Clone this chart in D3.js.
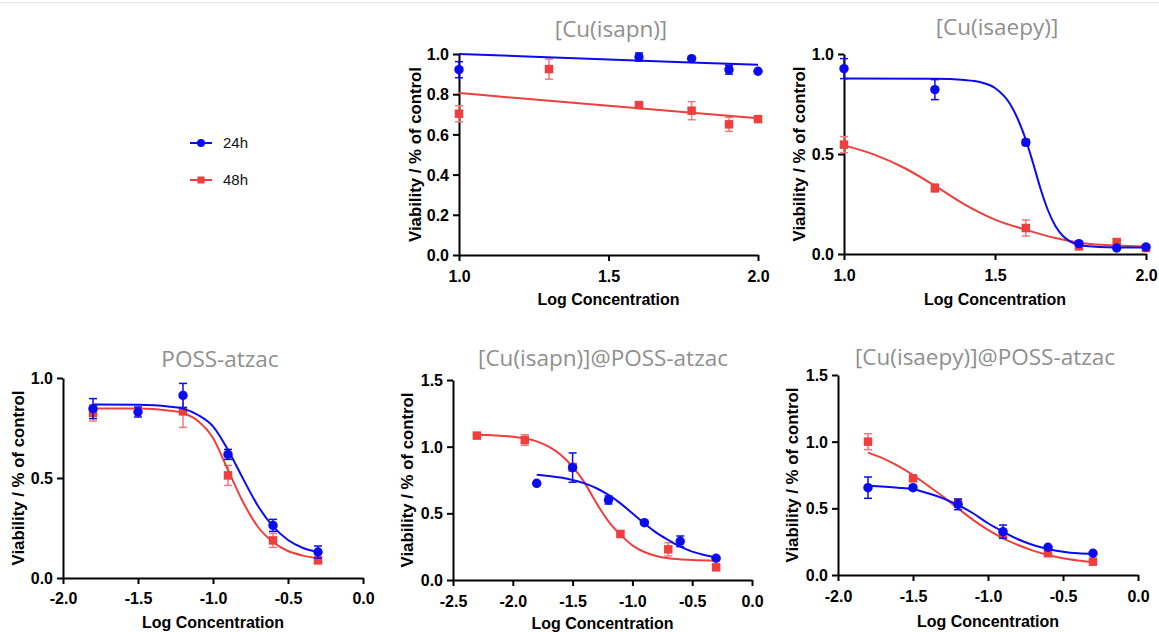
<!DOCTYPE html>
<html>
<head>
<meta charset="utf-8">
<script src="https://cdn.jsdelivr.net/npm/d3@7"></script>
<style>
  body { margin: 0; background: #fff; }
  svg { display: block; }
</style>
</head>
<body>
<div id="chart"></div>
<script>
// ---- data: [logConc, viability, sem] ----
const titles = ["[Cu(isapn)]", "[Cu(isaepy)]", "POSS-atzac", "[Cu(isapn)]@POSS-atzac", "[Cu(isaepy)]@POSS-atzac"];
const seriesNames = ["24h", "48h"];

const isapn24 = [[1.0, 0.922, 0.04], [1.602, 0.985, 0.02], [1.778, 0.977, 0], [1.903, 0.922, 0.022], [2.0, 0.914, 0]];
const isapn48 = [[1.0, 0.703, 0.04], [1.301, 0.925, 0.05], [1.602, 0.746, 0.01], [1.778, 0.718, 0.045], [1.903, 0.65, 0.035], [2.0, 0.676, 0.01]];
const isapn24Fit = [[1.0, 1.0], [1.5, 0.973], [2.0, 0.946]];
const isapn48Fit = [[1.0, 0.806], [1.5, 0.742], [2.0, 0.68]];

const isaepy24 = [[1.0, 0.927, 0.05], [1.301, 0.822, 0.05], [1.602, 0.558, 0.015], [1.778, 0.052, 0.01], [1.903, 0.03, 0], [2.0, 0.035, 0.01]];
const isaepy48 = [[1.0, 0.547, 0.04], [1.301, 0.33, 0.02], [1.602, 0.13, 0.04], [1.778, 0.038, 0.01], [1.903, 0.06, 0.01], [2.0, 0.03, 0.01]];
const isaepy24Fit = [[1.0, 0.877], [1.3, 0.876], [1.4, 0.87], [1.45, 0.86], [1.5, 0.83], [1.55, 0.75], [1.6, 0.58], [1.625, 0.46], [1.65, 0.33], [1.675, 0.22], [1.7, 0.14], [1.725, 0.09], [1.75, 0.062], [1.8, 0.04], [1.9, 0.033], [2.0, 0.032]];
const isaepy48Fit = [[1.0, 0.543], [1.1, 0.497], [1.2, 0.43], [1.3, 0.342], [1.4, 0.247], [1.5, 0.172], [1.6, 0.122], [1.7, 0.08], [1.8, 0.052], [1.9, 0.042], [2.0, 0.037]];

const poss24 = [[-1.8, 0.847, 0.05], [-1.5, 0.83, 0.025], [-1.2, 0.913, 0.06], [-0.9, 0.618, 0.025], [-0.6, 0.263, 0.03], [-0.3, 0.13, 0.03]];
const poss48 = [[-1.8, 0.825, 0.04], [-1.2, 0.833, 0.08], [-0.9, 0.513, 0.05], [-0.6, 0.188, 0.035], [-0.3, 0.088, 0.01]];
const poss24Fit = [[-1.8, 0.868], [-1.5, 0.866], [-1.3, 0.858], [-1.2, 0.847], [-1.1, 0.815], [-1.0, 0.758], [-0.9, 0.64], [-0.8, 0.497], [-0.7, 0.36], [-0.6, 0.258], [-0.5, 0.19], [-0.4, 0.15], [-0.3, 0.13]];
const poss48Fit = [[-1.8, 0.848], [-1.5, 0.847], [-1.3, 0.838], [-1.2, 0.825], [-1.1, 0.785], [-1.0, 0.70], [-0.9, 0.54], [-0.8, 0.38], [-0.7, 0.255], [-0.6, 0.18], [-0.5, 0.135], [-0.4, 0.112], [-0.3, 0.098]];

const isapnPoss24 = [[-1.8, 0.725, 0], [-1.5, 0.843, 0.11], [-1.2, 0.6, 0.03], [-0.9, 0.43, 0.01], [-0.6, 0.29, 0.04], [-0.3, 0.163, 0.01]];
const isapnPoss48 = [[-2.3, 1.083, 0.01], [-1.9, 1.05, 0.04], [-1.5, 0.845, 0.03], [-1.1, 0.345, 0.02], [-0.7, 0.23, 0.05], [-0.3, 0.095, 0.01]];
const isapnPoss24Fit = [[-1.8, 0.79], [-1.6, 0.768], [-1.5, 0.75], [-1.4, 0.725], [-1.3, 0.688], [-1.2, 0.638], [-1.1, 0.575], [-1.0, 0.5], [-0.9, 0.425], [-0.8, 0.355], [-0.7, 0.3], [-0.6, 0.25], [-0.5, 0.213], [-0.4, 0.188], [-0.3, 0.17]];
const isapnPoss48Fit = [[-2.3, 1.09], [-2.0, 1.075], [-1.8, 1.04], [-1.7, 1.0], [-1.6, 0.94], [-1.5, 0.85], [-1.4, 0.73], [-1.3, 0.575], [-1.2, 0.44], [-1.1, 0.34], [-1.0, 0.26], [-0.9, 0.21], [-0.8, 0.18], [-0.7, 0.163], [-0.5, 0.15], [-0.3, 0.145]];

const isaepyPoss24 = [[-1.8, 0.655, 0.08], [-1.5, 0.655, 0.015], [-1.2, 0.53, 0.04], [-0.9, 0.325, 0.05], [-0.6, 0.208, 0.01], [-0.3, 0.163, 0.01]];
const isaepyPoss48 = [[-1.8, 1.0, 0.06], [-1.5, 0.725, 0.02], [-1.2, 0.538, 0.03], [-0.9, 0.307, 0.03], [-0.6, 0.163, 0.01], [-0.3, 0.1, 0.01]];
const isaepyPoss24Fit = [[-1.8, 0.67], [-1.6, 0.655], [-1.5, 0.643], [-1.4, 0.613], [-1.3, 0.575], [-1.2, 0.525], [-1.1, 0.463], [-1.0, 0.388], [-0.9, 0.325], [-0.8, 0.268], [-0.7, 0.225], [-0.6, 0.195], [-0.5, 0.175], [-0.4, 0.163], [-0.3, 0.158]];
const isaepyPoss48Fit = [[-1.8, 0.918], [-1.7, 0.875], [-1.6, 0.818], [-1.5, 0.75], [-1.4, 0.67], [-1.3, 0.588], [-1.2, 0.5], [-1.1, 0.413], [-1.0, 0.338], [-0.9, 0.275], [-0.8, 0.225], [-0.7, 0.183], [-0.6, 0.15], [-0.5, 0.125], [-0.4, 0.108], [-0.3, 0.095]];

const ticksTop1Y = [0, 0.2, 0.4, 0.6, 0.8, 1.0];
const ticksHalfY = [0, 0.5, 1.0];
const ticksHalfY15 = [0, 0.5, 1.0, 1.5];
const ticksX12 = [1.0, 1.5, 2.0];
const ticksXm2 = [-2.0, -1.5, -1.0, -0.5, 0.0];
const ticksXm25 = [-2.5, -2.0, -1.5, -1.0, -0.5, 0.0];

// ---- layout ----
const W = 1159, H = 632;
const BLUE = "#0b0bf0", RED = "#ef3e3e", RED_ERR = "#f27a7a";

const panels = [
  { title: titles[0], x0: 459, x1: 758, yTop: 54, yBot: 255, xd: [1, 2], yd: [0, 1], xt: ticksX12, yt: ticksTop1Y,
    s24: isapn24, s48: isapn48, f24: isapn24Fit, f48: isapn48Fit, titleX: 611, titleY: 37, ylabX: 415, tickY: 282, xlabY: 305 },
  { title: titles[1], x0: 844, x1: 1146, yTop: 54, yBot: 254, xd: [1, 2], yd: [0, 1], xt: ticksX12, yt: ticksHalfY,
    s24: isaepy24, s48: isaepy48, f24: isaepy24Fit, f48: isaepy48Fit, titleX: 997, titleY: 35, ylabX: 799, tickY: 281, xlabY: 305 },
  { title: titles[2], x0: 63, x1: 363, yTop: 378, yBot: 578, xd: [-2, 0], yd: [0, 1], xt: ticksXm2, yt: ticksHalfY,
    s24: poss24, s48: poss48, f24: poss24Fit, f48: poss48Fit, titleX: 220, titleY: 367, ylabX: 18, tickY: 604, xlabY: 628 },
  { title: titles[3], x0: 453, x1: 752, yTop: 380, yBot: 580, xd: [-2.5, 0], yd: [0, 1.5], xt: ticksXm25, yt: ticksHalfY15,
    s24: isapnPoss24, s48: isapnPoss48, f24: isapnPoss24Fit, f48: isapnPoss48Fit, titleX: 603, titleY: 366, ylabX: 407, tickY: 607, xlabY: 629 },
  { title: titles[4], x0: 838, x1: 1138, yTop: 375, yBot: 575, xd: [-2, 0], yd: [0, 1.5], xt: ticksXm2, yt: ticksHalfY15,
    s24: isaepyPoss24, s48: isaepyPoss48, f24: isaepyPoss24Fit, f48: isaepyPoss48Fit, titleX: 985, titleY: 365, ylabX: 792, tickY: 602, xlabY: 627 }
];

const svg = d3.select("#chart").append("svg")
  .attr("width", W).attr("height", H)
  .style("font-family", "'Liberation Sans', Arial, sans-serif");

// faint frame line along the top edge
svg.append("line").attr("x1", 0).attr("x2", W).attr("y1", 2.5).attr("y2", 2.5)
  .attr("stroke", "#e6e6e6").attr("stroke-width", 1);

const fmt = d => d.toFixed(1);

panels.forEach(p => {
  const x = d3.scaleLinear().domain(p.xd).range([p.x0, p.x1]);
  const y = d3.scaleLinear().domain(p.yd).range([p.yBot, p.yTop]);
  const g = svg.append("g");

  // title
  g.append("text")
    .attr("x", p.titleX).attr("y", p.titleY)
    .attr("text-anchor", "middle")
    .attr("fill", "#8f8f8f")
    .style("font-family", "'Open Sans', sans-serif")
    .style("font-size", "22.5px")
    .text(p.title);

  // axes
  const xAxis = g.append("g")
    .attr("transform", `translate(0,${p.yBot})`)
    .call(d3.axisBottom(x).tickValues(p.xt).tickFormat(fmt).tickSize(6).tickSizeOuter(0));
  const yAxis = g.append("g")
    .attr("transform", `translate(${p.x0},0)`)
    .call(d3.axisLeft(y).tickValues(p.yt).tickFormat(fmt).tickSize(6).tickSizeOuter(0));

  [xAxis, yAxis].forEach(a => {
    a.select(".domain").attr("stroke", "#000").attr("stroke-width", 2);
    a.selectAll(".tick line").attr("stroke", "#000").attr("stroke-width", 2);
    a.selectAll(".tick text")
      .attr("fill", "#000")
      .style("font-size", "16px")
      .style("font-weight", "bold");
  });
  xAxis.selectAll(".tick text").attr("y", null).attr("dy", null)
    .attr("transform", `translate(0,${p.tickY - p.yBot})`);
  yAxis.selectAll(".tick text").attr("x", -10).attr("dy", "0.35em");

  // axis labels
  g.append("text")
    .attr("x", (p.x0 + p.x1) / 2).attr("y", p.xlabY)
    .attr("text-anchor", "middle")
    .style("font-size", "16px").style("font-weight", "bold")
    .text("Log Concentration");
  g.append("text")
    .attr("transform", `translate(${p.ylabX},${(p.yTop + p.yBot) / 2}) rotate(-90)`)
    .attr("text-anchor", "middle").attr("dy", "0.35em")
    .style("font-size", "16.8px").style("font-weight", "bold")
    .text("Viability / % of control");

  const line = d3.line().x(d => x(d[0])).y(d => y(d[1])).curve(d3.curveMonotoneX);

  // one series: error bars, fitted curve, markers
  function drawSeries(pts, fit, color, errColor, shape) {
    const eb = g.append("g").attr("stroke", errColor).attr("stroke-width", 1.5);
    pts.filter(d => d[2] > 0).forEach(d => {
      const xx = x(d[0]), ya = y(d[1] - d[2]), yb = y(d[1] + d[2]);
      eb.append("line").attr("x1", xx).attr("x2", xx).attr("y1", ya).attr("y2", yb);
      eb.append("line").attr("x1", xx - 4).attr("x2", xx + 4).attr("y1", ya).attr("y2", ya);
      eb.append("line").attr("x1", xx - 4).attr("x2", xx + 4).attr("y1", yb).attr("y2", yb);
    });

    g.append("path").datum(fit)
      .attr("fill", "none").attr("stroke", color).attr("stroke-width", 2)
      .attr("d", line);

    const sym = d3.symbol().type(shape).size(shape === d3.symbolSquare ? 72 : 70);
    g.append("g").selectAll("path").data(pts).join("path")
      .attr("transform", d => `translate(${x(d[0])},${y(d[1])})`)
      .attr("d", sym)
      .attr("fill", color);
  }

  drawSeries(p.s48, p.f48, RED, RED_ERR, d3.symbolSquare);
  drawSeries(p.s24, p.f24, BLUE, BLUE, d3.symbolCircle);
});

// legend
const legend = svg.append("g");
const legendItems = [
  { name: seriesNames[0], color: BLUE, shape: d3.symbolCircle, y: 143 },
  { name: seriesNames[1], color: RED, shape: d3.symbolSquare, y: 180 }
];
legendItems.forEach(it => {
  legend.append("line")
    .attr("x1", 190).attr("x2", 212).attr("y1", it.y).attr("y2", it.y)
    .attr("stroke", it.color).attr("stroke-width", 2);
  legend.append("path")
    .attr("transform", `translate(201,${it.y})`)
    .attr("d", d3.symbol().type(it.shape).size(50))
    .attr("fill", it.color);
  legend.append("text")
    .attr("x", 223).attr("y", it.y).attr("dy", "0.35em")
    .style("font-size", "15px")
    .attr("fill", "#111")
    .text(it.name);
});
</script>
</body>
</html>
